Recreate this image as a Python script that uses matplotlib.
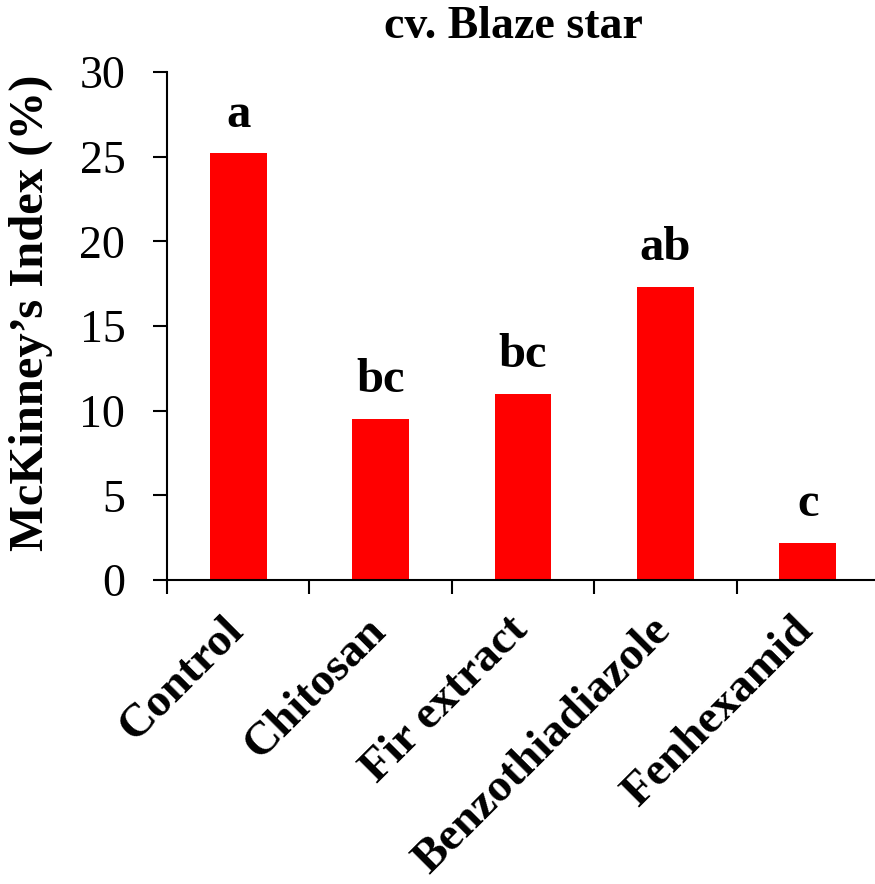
import matplotlib
matplotlib.use("Agg")
import matplotlib.pyplot as plt
import matplotlib.transforms as mtransforms
import numpy as np

categories = ["Control", "Chitosan", "Fir extract", "Benzothiadiazole", "Fenhexamid"]
values = [25.2, 9.5, 11.0, 17.3, 2.2]
letters = ["a", "bc", "bc", "ab", "c"]
yticks = [0, 5, 10, 15, 20, 25, 30]

plt.rcParams['font.family'] = ['Liberation Serif', 'DejaVu Serif']

fig = plt.figure(figsize=(8.75, 8.84), dpi=100)
ax = fig.add_axes([167/875, 304/884, 712/875, 508/884])

x = np.arange(len(categories))
ax.bar(x, values, width=0.4, color='#ff0000', edgecolor='none', zorder=2)
for xi, v, l in zip(x, values, letters):
    ax.annotate(l, (xi, v), xytext=(0, 12), textcoords='offset points',
                ha='center', va='bottom', fontsize=35, fontweight='bold')

ax.set_xlim(-0.5, len(categories) - 0.5)
ax.set_ylim(0, 30)
ax.set_yticks(yticks)
ax.set_yticklabels([str(t) for t in yticks], fontsize=33)
ax.tick_params(axis='y', direction='out', length=10, width=1.5, pad=20)

ax.set_xticks(np.arange(len(categories) + 1) - 0.5)
ax.set_xticklabels([])
ax.tick_params(axis='x', direction='out', length=10, width=1.5)
ax.set_xticks(x, minor=True)
labels = ax.set_xticklabels(categories, minor=True, rotation=45, ha='right',
                            rotation_mode='anchor', fontsize=34, fontweight='bold')
ax.tick_params(axis='x', which='minor', length=0, pad=21)
shift = mtransforms.ScaledTranslation(-16/100, 0, fig.dpi_scale_trans)
for lab in labels:
    lab.set_transform(lab.get_transform() + shift)

for s in ['top', 'right']:
    ax.spines[s].set_visible(False)
for s in ['left', 'bottom']:
    ax.spines[s].set_linewidth(1.5)

fig.text(31/875, 1 - 313/884, "McKinney’s Index (%)", fontsize=35, fontweight='bold',
         rotation=90, ha='center', va='center')
fig.text(513/875, 1 - 38/884, "cv. Blaze star", fontsize=33, fontweight='bold',
         ha='center', va='baseline')

fig.savefig("out.png", dpi=100)
